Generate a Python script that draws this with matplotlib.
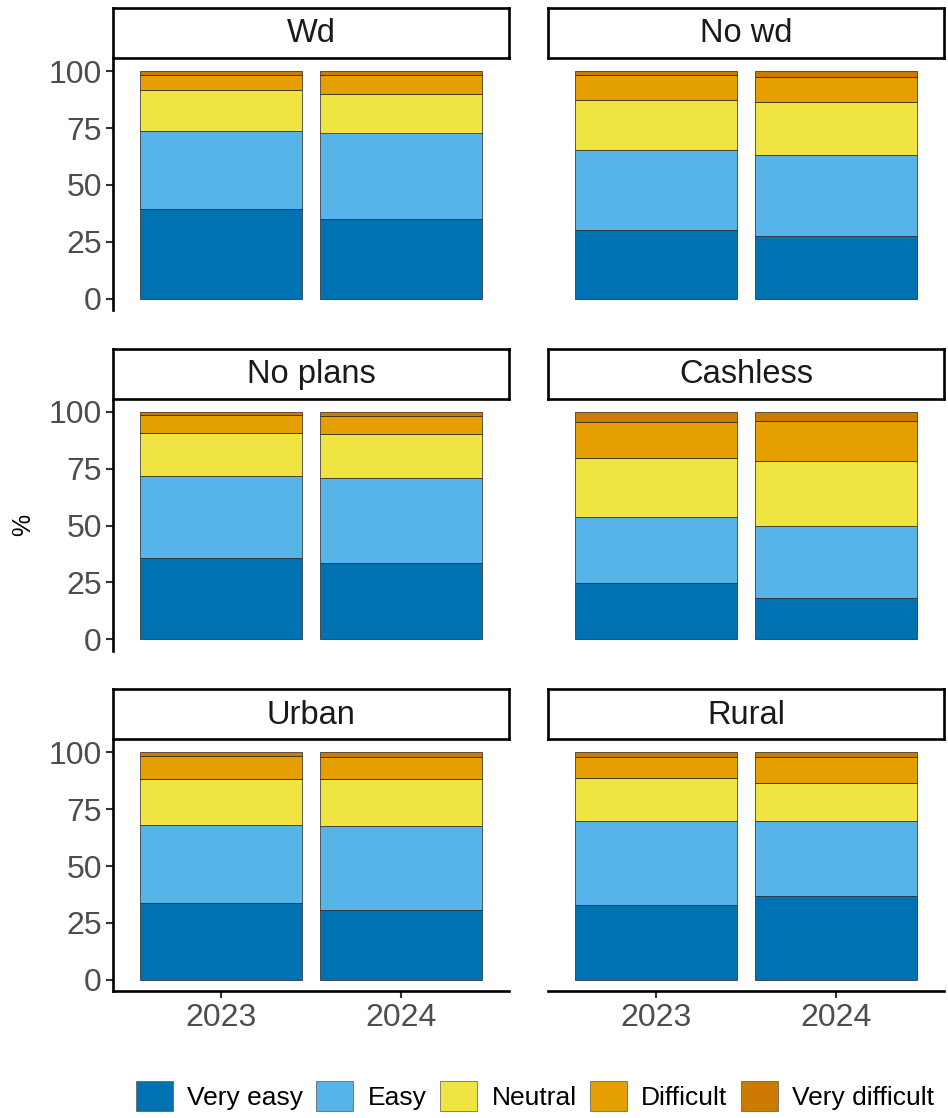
import numpy as np
import matplotlib
matplotlib.use("Agg")
import matplotlib.pyplot as plt
from matplotlib.patches import Patch

plt.rcParams['font.family'] = ['Liberation Sans', 'DejaVu Sans']

# data: share (%) per answer, bars = [2023, 2024]
years = ['2023', '2024']
levels = ['Very easy', 'Easy', 'Neutral', 'Difficult', 'Very difficult']
colors = ['#0072B2', '#56B4E9', '#F0E442', '#E69F00', '#CC7A00']

panels = ['Wd', 'No wd', 'No plans', 'Cashless', 'Urban', 'Rural']

very_easy = {'Wd': [39.4, 35.0], 'No wd': [30.1, 27.6], 'No plans': [35.8, 33.6],
             'Cashless': [24.9, 18.3], 'Urban': [33.7, 30.8], 'Rural': [32.7, 37.0]}
easy = {'Wd': [34.3, 38.1], 'No wd': [35.3, 35.8], 'No plans': [35.9, 37.5],
        'Cashless': [28.9, 31.7], 'Urban': [34.4, 37.0], 'Rural': [37.2, 32.9]}
neutral = {'Wd': [18.2, 16.9], 'No wd': [21.8, 23.3], 'No plans': [19.2, 19.1],
           'Cashless': [26.0, 28.3], 'Urban': [20.3, 20.4], 'Rural': [18.9, 16.7]}
difficult = {'Wd': [6.3, 8.2], 'No wd': [11.0, 11.0], 'No plans': [7.9, 8.2],
             'Cashless': [15.8, 17.7], 'Urban': [10.0, 9.7], 'Rural': [9.0, 11.2]}
very_difficult = {'Wd': [1.8, 1.8], 'No wd': [1.8, 2.3], 'No plans': [1.2, 1.6],
                  'Cashless': [4.4, 4.0], 'Urban': [1.6, 2.1], 'Rural': [2.2, 2.2]}

series = [very_easy, easy, neutral, difficult, very_difficult]

W, H = 948, 1118
fig = plt.figure(figsize=(W / 100, H / 100), dpi=100)


def px_axes(x0, y0, x1, y1):
    return fig.add_axes([x0 / W, 1 - y1 / H, (x1 - x0) / W, (y1 - y0) / H])


col_x = [113, 548]
panel_w = 396
row_y = [60, 400.5, 741]
panel_h = 250
tick_grey = '#4D4D4D'

for i, name in enumerate(panels):
    r, c = divmod(i, 2)
    x0 = col_x[c]
    y0 = row_y[r]
    ax = px_axes(x0, y0, x0 + panel_w, y0 + panel_h)

    xs = np.arange(1, len(years) + 1)
    bottom = np.zeros(len(years))
    for s, lab, col in zip(series, levels, colors):
        vals = np.array(s[name])
        ax.bar(xs, vals, 0.9, bottom=bottom, color=col, edgecolor='#222222',
               linewidth=0.5, label=lab)
        bottom += vals

    ax.set_xlim(0.4, 2.6)
    ax.set_ylim(-5, 105)
    for sp in ax.spines.values():
        sp.set_visible(False)

    if c == 0:
        ax.spines['left'].set_visible(True)
        ax.spines['left'].set_linewidth(1.9)
        ax.set_yticks([0, 25, 50, 75, 100])
        ax.tick_params(axis='y', labelsize=23, labelcolor=tick_grey, length=5,
                       width=1.5, color='#333333', pad=3)
    else:
        ax.set_yticks([])

    if r == 2:
        ax.spines['bottom'].set_visible(True)
        ax.spines['bottom'].set_linewidth(1.9)
        ax.set_xticks(xs)
        ax.set_xticklabels(years)
        ax.tick_params(axis='x', labelsize=23, labelcolor=tick_grey, length=5,
                       width=1.5, color='#333333', pad=4)
    else:
        ax.set_xticks([])

    # facet strip
    sax = px_axes(x0, y0 - 52, x0 + panel_w, y0 - 2)
    sax.set_xticks([])
    sax.set_yticks([])
    for sp in sax.spines.values():
        sp.set_linewidth(1.9)
        sp.set_color('black')
    sax.text(0.5, 0.48, name, ha='center', va='center', fontsize=23.5,
             color='#1A1A1A', transform=sax.transAxes)

fig.text(23 / W, 1 - 525 / H, '%', rotation=90, ha='center', va='center',
         fontsize=18, color='black')

handles = [Patch(facecolor=col, edgecolor='#555555', linewidth=0.5, label=lab)
           for lab, col in zip(levels, colors)]
fig.legend(handles=handles, loc='center', ncol=5,
           bbox_to_anchor=(535 / W, 1 - 1096 / H), frameon=False,
           fontsize=19.0, handlelength=1.4, handleheight=1.4,
           handletextpad=0.55, columnspacing=0.5, borderpad=0)

fig.savefig('out.png', dpi=100)
